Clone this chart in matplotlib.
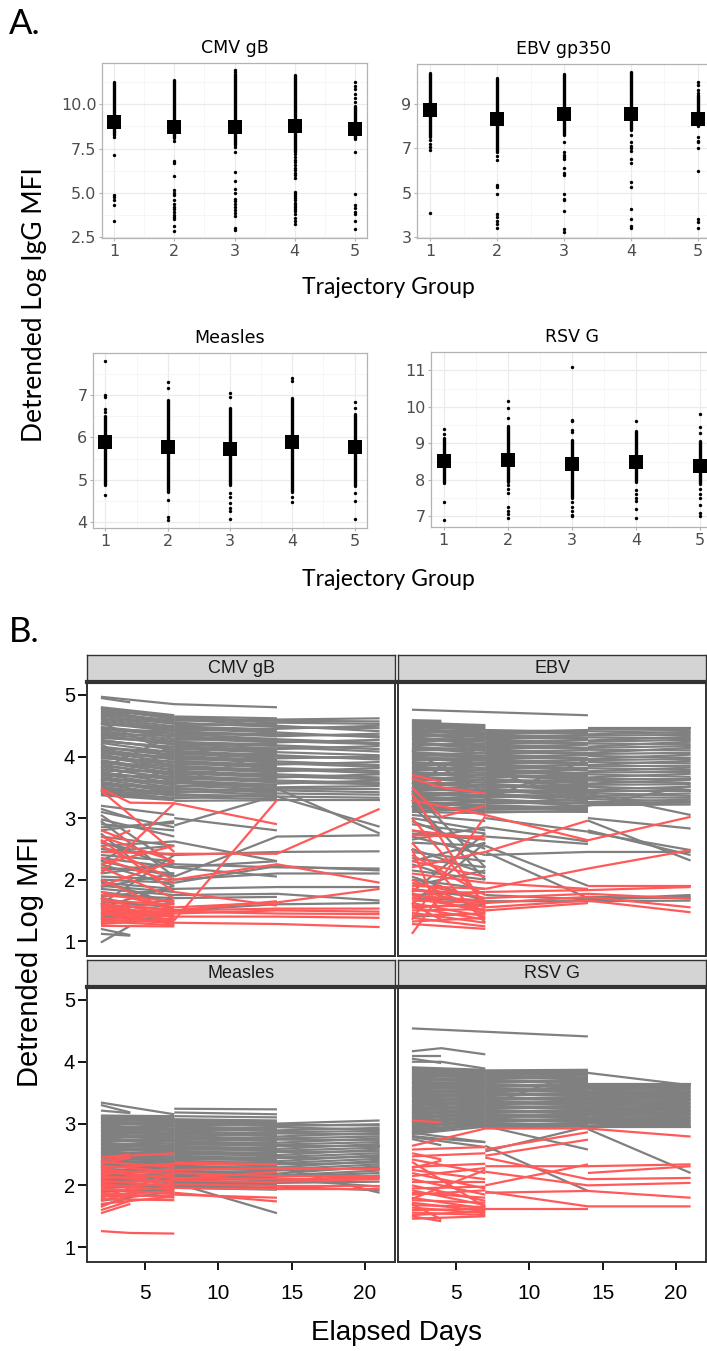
import matplotlib
matplotlib.use("Agg")
import matplotlib.pyplot as plt

plt.rcParams['font.family'] = ['DejaVu Sans']

N = None
W, H = 707, 1351

# ---------------- Panel A: IgG by trajectory group ----------------
groups = [1, 2, 3, 4, 5]

cmv_mean = [9.00, 8.70, 8.73, 8.77, 8.60]
cmv_lo = [8.26, 8.07, 7.70, 7.32, 8.05]
cmv_hi = [11.25, 11.38, 11.70, 11.63, 9.90]
cmv_pts = [
    [8.16, 7.16, 4.89, 4.76, 4.62, 4.34, 3.43],
    [7.94, 6.79, 6.71, 5.93, 5.14, 4.99, 4.86, 4.57, 4.39, 4.20, 4.06, 3.91, 3.76, 3.63, 3.50, 3.12, 2.84],
    [11.95, 11.85, 7.60, 7.32, 6.18, 5.65, 5.24, 4.99, 4.63, 4.52, 4.39, 4.20, 4.05, 3.88, 3.69, 3.00, 2.91],
    [7.18, 7.02, 6.88, 6.72, 6.58, 6.41, 6.27, 6.12, 5.98, 5.84, 5.05, 4.92, 4.80, 4.70, 4.58, 4.45,
     4.32, 4.20, 4.08, 3.95, 3.80, 3.59, 3.40, 3.25],
    [11.25, 11.05, 10.85, 10.60, 10.35, 10.15, 7.32, 4.95, 4.29, 4.15, 3.91, 3.78, 3.40, 2.97],
]

ebv_mean = [8.76, 8.31, 8.55, 8.58, 8.31]
ebv_lo = [7.50, 6.90, 7.60, 7.83, 8.00]
ebv_hi = [10.43, 10.19, 10.38, 10.46, 9.40]
ebv_pts = [
    [7.38, 7.22, 7.05, 6.92, 4.07],
    [6.85, 6.68, 6.50, 5.33, 5.25, 4.94, 4.02, 3.90, 3.74, 3.60, 3.42],
    [7.30, 6.82, 6.70, 6.60, 6.52, 6.10, 5.87, 5.78, 4.94, 4.71, 4.65, 4.19, 3.36, 3.24],
    [7.60, 7.30, 7.12, 7.00, 6.88, 6.52, 6.32, 5.48, 5.27, 4.26, 3.80, 3.51, 3.39],
    [10.00, 9.85, 9.65, 9.50, 7.53, 7.35, 7.27, 7.03, 5.98, 3.81, 3.68, 3.39],
]

measles_mean = [5.90, 5.77, 5.73, 5.90, 5.76]
measles_lo = [4.88, 4.72, 4.88, 4.72, 4.84]
measles_hi = [6.50, 6.88, 6.69, 6.92, 6.55]
measles_pts = [
    [7.81, 7.00, 6.95, 6.68, 6.60, 4.64],
    [7.31, 7.16, 4.51, 4.11, 4.05],
    [7.05, 6.96, 4.68, 4.60, 4.45, 4.33, 4.27, 4.07],
    [7.39, 7.34, 4.60, 4.47],
    [6.84, 6.70, 4.68, 4.49, 4.08],
]

rsv_mean = [8.53, 8.54, 8.43, 8.48, 8.39]
rsv_lo = [7.91, 7.95, 7.50, 7.93, 7.89]
rsv_hi = [9.15, 9.47, 9.10, 9.33, 9.07]
rsv_pts = [
    [9.40, 9.25, 7.39, 6.91],
    [10.15, 9.98, 9.68, 7.85, 7.75, 7.63, 7.26, 7.15, 7.06, 6.97],
    [11.09, 9.65, 9.60, 9.37, 9.30, 7.40, 7.26, 7.15, 7.05, 7.00],
    [9.61, 7.71, 7.60, 7.50, 7.41, 7.19, 6.96],
    [9.81, 9.46, 9.28, 7.75, 7.60, 7.50, 7.30, 7.10, 7.00],
]

# ---------------- Panel B: detrended log MFI over elapsed days ----------------
days = [2, 4, 7, 14, 21]

cmv_gray = [
    [4.95, 4.88, N, N, N], [4.97, N, 4.85, 4.80, N], [4.78, 4.73, N, N, N], [4.66, 4.70, N, N, N],
    [4.80, N, 4.67, N, N], [4.77, N, 4.61, N, N], [4.74, N, 4.65, N, N], [4.71, N, 4.54, N, N],
    [4.68, N, 4.59, N, N], [4.63, N, 4.49, N, N], [4.61, N, 4.56, N, N], [4.57, N, 4.43, N, N],
    [4.55, N, 4.05, N, N], [4.52, N, 4.47, N, N], [4.48, N, 4.36, N, N], [4.45, N, 4.40, N, N],
    [4.41, N, 4.28, N, N], [4.38, N, 4.33, N, N], [4.35, N, 4.19, N, N], [4.30, N, 4.24, N, N],
    [4.27, N, 4.11, N, N], [4.24, N, 4.16, N, N], [4.20, N, 3.55, N, N], [4.16, N, 4.03, N, N],
    [4.13, N, 4.08, N, N], [4.09, N, 3.95, N, N], [4.05, N, 3.99, N, N], [4.01, N, 3.87, N, N],
    [3.97, N, 3.92, N, N], [3.92, N, 3.79, N, N], [3.89, N, 3.84, N, N], [3.85, N, 3.71, N, N],
    [3.80, N, 4.35, N, N], [3.77, N, 3.75, N, N], [3.73, N, 3.63, N, N], [3.69, N, 3.67, N, N],
    [3.65, N, 3.55, N, N], [3.62, N, 3.59, N, N], [3.57, N, 3.47, N, N], [3.53, N, 3.51, N, N],
    [3.49, N, 3.40, N, N], [3.45, N, 3.44, N, N], [3.41, N, 3.33, N, N], [3.37, N, 3.29, N, N],
    [3.60, N, 4.10, N, N],
    [N, N, 4.65, 4.62, N], [N, N, 4.62, 4.55, N], [N, N, 4.58, 4.60, N], [N, N, 4.55, 4.48, N],
    [N, N, 4.51, 4.53, N], [N, N, 4.47, 4.41, N], [N, N, 4.43, 4.45, N], [N, N, 4.39, 4.33, N],
    [N, N, 4.35, 4.37, N], [N, N, 4.31, 4.25, N], [N, N, 4.27, 4.29, N], [N, N, 4.25, 3.70, N],
    [N, N, 4.22, 4.17, N], [N, N, 4.19, 4.21, N], [N, N, 4.15, 4.08, N], [N, N, 4.11, 4.13, N],
    [N, N, 4.07, 4.00, N], [N, N, 4.03, 4.04, N], [N, N, 3.99, 3.92, N], [N, N, 3.95, 3.96, N],
    [N, N, 3.91, 3.84, N], [N, N, 3.87, 3.88, N], [N, N, 3.83, 3.76, N], [N, N, 3.79, 3.80, N],
    [N, N, 3.75, 3.68, N], [N, N, 3.71, 3.72, N], [N, N, 3.67, 3.60, N], [N, N, 3.63, 3.64, N],
    [N, N, 3.59, 3.52, N], [N, N, 3.55, 4.10, N], [N, N, 3.51, 3.55, N], [N, N, 3.47, 3.44, N],
    [N, N, 3.42, 3.47, N], [N, N, 3.37, 3.36, N], [N, N, 3.32, 3.39, N], [N, N, 3.28, 3.29, N],
    [N, N, N, 4.60, 4.62], [N, N, N, 4.55, 4.53], [N, N, N, 4.50, 4.41], [N, N, N, 4.45, 4.50],
    [N, N, N, 4.39, 4.31], [N, N, N, 4.33, 4.37], [N, N, N, 4.28, 4.22], [N, N, N, 4.23, 4.27],
    [N, N, N, 4.18, 4.12], [N, N, N, 4.12, 4.17], [N, N, N, 4.07, 4.02], [N, N, N, 4.02, 3.95],
    [N, N, N, 3.97, 4.00], [N, N, N, 3.92, 3.86], [N, N, N, 3.87, 3.91], [N, N, N, 3.81, 3.76],
    [N, N, N, 3.76, 3.81], [N, N, N, 3.71, 3.66], [N, N, N, 3.66, 3.71], [N, N, N, 3.61, 3.57],
    [N, N, N, 3.56, 3.61], [N, N, N, 3.50, 3.52], [N, N, N, 3.45, 3.42], [N, N, N, 3.40, 3.38],
    [N, N, N, 3.35, 3.33], [N, N, N, 3.30, 3.30],
    [3.20, N, 3.05, N, N], [3.15, 3.00, N, N, N], [3.10, N, 2.85, N, N], [N, N, 2.88, 3.37, N],
    [N, N, N, 3.48, 2.75], [N, N, N, 3.35, 2.86], [2.90, N, 2.80, N, N], [2.70, N, 2.55, N, N],
    [2.60, 2.50, N, N, N], [2.50, N, 2.40, 2.45, 2.46], [2.40, N, 2.30, N, N], [2.35, N, 2.20, 2.30, N],
    [2.20, N, 2.10, N, N], [2.15, N, 2.25, 2.20, 2.18], [2.05, N, 2.00, 2.10, 2.10], [2.00, N, 1.95, N, N],
    [1.95, N, 1.85, 1.88, 1.88], [1.90, N, 1.80, N, N], [1.85, N, 1.75, 1.77, 1.66], [1.80, N, 1.65, N, N],
    [1.75, N, 1.70, 1.72, N], [1.70, 1.62, N, N, N], [1.65, N, 1.55, N, N], [1.60, N, 1.50, 1.60, 1.62],
    [1.50, N, 1.40, N, N], [1.40, N, 1.35, N, N], [1.20, 1.10, N, N, N], [0.98, 1.25, N, N, N],
    [1.12, 1.09, N, N, N], [2.95, N, 2.05, N, N], [1.60, N, 2.40, N, N], [3.05, N, 2.25, N, N],
    [N, N, 2.05, 2.70, 2.72], [N, N, 2.20, 2.05, N], [N, N, 1.95, 2.22, 2.15], [N, N, 3.00, 2.80, N],
    [2.55, N, 2.62, 2.30, N], [2.80, N, 2.95, N, N], [2.25, N, 1.90, N, N],
    [2.98, N, 2.70, N, N], [2.85, N, 2.92, N, N], [2.62, N, 2.20, N, N], [2.45, N, 2.55, N, N],
    [2.30, N, 2.05, N, N], [2.10, N, 2.25, N, N], [1.98, N, 1.60, N, N], [1.88, N, 2.10, N, N],
    [1.72, N, 1.85, N, N], [1.55, N, 1.90, N, N], [1.45, N, 1.70, N, N], [1.35, 1.60, N, N, N],
    [2.75, 2.35, N, N, N], [2.30, 2.55, N, N, N],
]
# extra subjects inside the dense grey band, (start, end) per sampling interval
cmv_fill_2_7 = [
    (4.79, 4.63), (4.73, 4.57), (4.66, 4.53), (4.60, 4.46), (4.54, 4.41), (4.47, 4.32), (4.43, 4.37),
    (4.37, 4.25), (4.32, 4.21), (4.26, 4.14), (4.22, 4.06), (4.15, 4.01), (4.11, 3.97), (4.07, 3.90),
    (4.03, 3.85), (3.99, 3.82), (3.94, 3.77), (3.91, 3.73), (3.87, 3.69), (3.83, 3.61), (3.79, 3.66),
    (3.75, 3.57), (3.71, 3.53), (3.67, 3.49), (3.63, 3.45), (3.59, 3.42), (3.55, 3.38), (3.51, 3.36),
    (3.47, 3.31), (3.43, 3.38), (3.39, 3.32),
]
cmv_fill_7_14 = [
    (4.63, 4.58), (4.60, 4.51), (4.53, 4.50), (4.49, 4.44), (4.45, 4.39), (4.41, 4.35), (4.37, 4.28),
    (4.33, 4.27), (4.29, 4.23), (4.24, 4.19), (4.20, 4.13), (4.17, 4.10), (4.13, 4.06), (4.09, 4.02),
    (4.05, 3.97), (4.01, 3.94), (3.97, 3.90), (3.93, 3.86), (3.89, 3.82), (3.85, 3.78), (3.81, 3.74),
    (3.77, 3.70), (3.73, 3.66), (3.69, 3.62), (3.65, 3.58), (3.61, 3.54), (3.57, 3.49), (3.53, 3.46),
    (3.49, 3.41), (3.44, 3.38), (3.39, 3.34), (3.34, 3.31),
]
cmv_fill_14_21 = [
    (4.58, 4.57), (4.47, 4.46), (4.36, 4.33), (4.25, 4.20), (4.15, 4.08), (3.99, 3.98), (3.89, 3.83),
    (3.79, 3.73), (3.68, 3.63), (3.58, 3.55), (3.48, 3.47),
]
cmv_red = [
    [3.48, 3.25, 3.24, 2.90, N], [2.10, N, 3.24, N, N], [N, N, 1.34, 3.29, N], [2.45, N, 2.42, 2.42, 3.15],
    [2.55, N, 2.00, 2.25, 1.95], [N, N, 1.55, 1.63, 1.85], [1.60, N, 1.50, 1.53, 1.53], [1.55, N, 1.45, 1.50, 1.48],
    [1.50, N, 1.48, 1.45, 1.44], [1.45, N, 1.40, 1.40, 1.38], [1.35, N, 1.30, 1.28, 1.23], [2.80, 2.62, N, N, N],
    [2.70, N, 2.30, N, N], [3.45, N, 2.45, N, N], [2.65, N, 1.80, N, N], [2.60, 2.80, N, N, N],
    [2.35, N, 1.95, N, N], [2.25, N, 2.55, N, N], [1.80, N, 1.55, N, N], [1.75, N, 1.65, N, N],
    [1.70, N, 1.38, N, N], [1.66, N, 1.60, N, N], [1.62, N, 1.30, N, N], [1.58, N, 1.52, N, N],
    [1.55, N, 1.42, N, N], [1.52, N, 1.62, N, N], [1.48, N, 1.35, N, N], [1.45, N, 1.28, N, N],
    [1.42, N, 1.50, N, N], [1.38, N, 1.33, N, N], [1.35, N, 1.45, N, N], [1.32, N, 1.26, N, N],
    [1.28, N, 1.36, N, N], [1.25, N, 1.24, N, N], [1.60, 1.45, N, N, N], [1.40, 1.55, N, N, N],
    [1.30, 1.48, N, N, N], [1.70, 1.35, N, N, N], [1.90, N, 2.30, N, N], [2.00, N, 1.48, N, N],
    [2.20, N, 1.70, N, N], [N, N, 1.80, 1.58, N], [N, N, 1.50, 1.65, N],
]

ebv_gray = [
    [4.76, N, N, 4.67, N], [4.59, 4.58, N, N, N], [4.57, 4.55, N, N, N], [4.54, 4.57, N, N, N],
    [4.55, N, 4.51, N, N], [4.52, N, 4.46, N, N], [4.48, N, 4.50, N, N], [4.45, N, 4.39, N, N],
    [4.41, N, 4.43, N, N], [4.38, N, 4.31, N, N], [4.34, N, 4.36, N, N], [4.31, N, 4.24, N, N],
    [4.27, N, 4.29, N, N], [4.23, N, 4.16, N, N], [4.19, N, 4.21, N, N], [4.16, N, 4.09, N, N],
    [4.12, N, 4.14, N, N], [4.07, N, 4.01, N, N], [4.04, N, 4.05, N, N], [4.00, N, 3.93, N, N],
    [3.96, N, 3.98, N, N], [3.91, N, 3.86, N, N], [3.88, N, 3.90, N, N], [3.84, N, 3.77, N, N],
    [3.80, N, 3.82, N, N], [3.75, N, 3.69, N, N], [3.72, N, 3.74, N, N], [3.68, N, 3.61, N, N],
    [3.64, N, 3.66, N, N], [3.59, N, 3.53, N, N], [3.56, N, 3.58, N, N], [3.52, N, 3.45, N, N],
    [3.48, N, 3.50, N, N], [3.43, N, 3.37, N, N], [3.40, N, 3.42, N, N], [3.36, N, 3.29, N, N],
    [3.32, N, 3.34, N, N], [3.27, N, 3.21, N, N], [3.24, N, 3.26, N, N], [3.20, N, 3.13, N, N],
    [3.15, N, 3.17, N, N], [3.10, N, 3.08, N, N], [4.10, N, 3.40, N, N], [3.55, N, 4.20, N, N],
    [N, N, 4.43, 4.40, N], [N, N, 4.40, 4.43, N], [N, N, 4.36, 4.31, N], [N, N, 4.32, 4.35, N],
    [N, N, 4.28, 4.22, N], [N, N, 4.24, 4.27, N], [N, N, 4.20, 4.14, N], [N, N, 4.16, 4.19, N],
    [N, N, 4.12, 4.05, N], [N, N, 4.08, 4.10, N], [N, N, 4.04, 3.97, N], [N, N, 4.00, 4.02, N],
    [N, N, 3.96, 3.89, N], [N, N, 3.92, 3.94, N], [N, N, 3.88, 3.80, N], [N, N, 3.84, 3.86, N],
    [N, N, 3.80, 3.72, N], [N, N, 3.76, 3.78, N], [N, N, 3.72, 3.64, N], [N, N, 3.68, 3.70, N],
    [N, N, 3.64, 3.56, N], [N, N, 3.60, 3.62, N], [N, N, 3.56, 3.47, N], [N, N, 3.52, 3.54, N],
    [N, N, 3.48, 3.39, N], [N, N, 3.44, 3.46, N], [N, N, 3.40, 3.31, N], [N, N, 3.36, 3.38, N],
    [N, N, 3.31, 3.23, N], [N, N, 3.26, 3.29, N], [N, N, 3.21, 3.16, N], [N, N, 3.16, 3.20, N],
    [N, N, 3.11, 3.10, N], [N, N, 3.80, 3.25, N], [N, N, 3.30, 3.95, N],
    [N, N, N, 4.46, 4.46], [N, N, N, 4.41, 4.38], [N, N, N, 4.36, 4.40], [N, N, N, 4.31, 4.29],
    [N, N, N, 4.26, 4.32], [N, N, N, 4.21, 4.20], [N, N, N, 4.16, 4.24], [N, N, N, 4.11, 4.10],
    [N, N, N, 4.06, 4.14], [N, N, N, 4.01, 3.98], [N, N, N, 3.96, 4.03], [N, N, N, 3.91, 3.89],
    [N, N, N, 3.86, 3.93], [N, N, N, 3.81, 3.78], [N, N, N, 3.76, 3.82], [N, N, N, 3.71, 3.67],
    [N, N, N, 3.66, 3.72], [N, N, N, 3.61, 3.57], [N, N, N, 3.56, 3.62], [N, N, N, 3.51, 3.46],
    [N, N, N, 3.46, 3.51], [N, N, N, 3.41, 3.36], [N, N, N, 3.36, 3.40], [N, N, N, 3.31, 3.27],
    [N, N, N, 3.26, 3.30], [N, N, N, 3.21, 3.22], [N, N, N, 3.40, 3.05], [N, N, N, 3.20, 3.52],
    [3.05, N, 2.95, N, N], [3.00, N, 2.80, N, N], [2.90, N, 2.75, N, N], [2.80, 2.70, N, N, N],
    [2.75, N, 2.65, N, N], [2.70, N, 2.40, N, N], [2.60, N, 2.55, N, N], [2.45, N, 2.30, N, N],
    [2.35, N, 2.20, N, N], [2.25, 2.10, N, N, N], [2.15, N, 2.00, N, N], [2.00, N, 1.85, N, N],
    [1.85, N, 1.70, N, N], [1.70, N, 1.65, N, N], [1.55, N, 1.60, N, N], [1.40, N, 1.45, N, N],
    [3.45, N, 2.20, N, N], [3.30, N, 2.00, N, N], [1.80, N, 2.75, N, N], [1.60, N, 2.60, N, N],
    [N, N, 2.70, 2.58, N], [N, N, 2.85, 2.62, N], [N, N, 3.00, 2.78, N], [N, N, 2.45, 1.70, N],
    [N, N, 2.55, 1.90, N], [N, N, 1.75, 1.68, 1.72], [N, N, 1.65, 1.65, 1.66], [N, N, N, 2.96, 2.31],
    [N, N, N, 2.80, 2.40], [N, N, N, 2.77, 2.48], [N, N, N, 3.00, 2.83], [N, N, 2.40, 2.45, 2.45],
    [N, N, N, 1.72, 1.70], [N, N, N, 1.68, 1.75],
    [2.95, N, 2.50, N, N], [2.65, N, 2.85, N, N], [2.50, N, 2.10, N, N], [2.30, N, 2.60, N, N],
    [2.05, N, 1.65, N, N], [1.90, N, 2.15, N, N], [1.75, N, 1.80, N, N], [3.20, 2.75, N, N, N],
]
ebv_fill_2_7 = [
    (4.53, 4.48), (4.50, 4.42), (4.47, 4.45), (4.43, 4.34), (4.40, 4.38), (4.36, 4.27), (4.33, 4.33),
    (4.29, 4.20), (4.25, 4.25), (4.21, 4.13), (4.18, 4.18), (4.14, 4.05), (4.10, 4.11), (4.06, 3.97),
    (4.02, 4.00), (3.98, 3.89), (3.94, 3.94), (3.90, 3.81), (3.86, 3.86), (3.82, 3.73), (3.78, 3.78),
    (3.74, 3.65), (3.70, 3.70), (3.66, 3.57), (3.62, 3.62), (3.58, 3.49), (3.54, 3.54), (3.50, 3.41),
    (3.46, 3.46), (3.42, 3.33), (3.38, 3.38), (3.34, 3.25), (3.30, 3.30), (3.26, 3.17), (3.22, 3.22),
    (3.18, 3.11), (3.12, 3.14),
]
ebv_fill_7_14 = [
    (4.42, 4.37), (4.38, 4.38), (4.34, 4.29), (4.30, 4.30), (4.26, 4.20), (4.22, 4.22), (4.18, 4.12),
    (4.14, 4.14), (4.10, 4.03), (4.06, 4.06), (4.02, 3.95), (3.98, 3.98), (3.94, 3.86), (3.90, 3.90),
    (3.86, 3.77), (3.82, 3.82), (3.78, 3.69), (3.74, 3.74), (3.70, 3.61), (3.66, 3.66), (3.62, 3.52),
    (3.58, 3.58), (3.54, 3.44), (3.50, 3.50), (3.46, 3.35), (3.42, 3.42), (3.38, 3.27), (3.34, 3.34),
    (3.29, 3.19), (3.24, 3.25), (3.19, 3.13), (3.14, 3.16), (3.09, 3.12),
]
ebv_fill_14_21 = [
    (4.44, 4.43), (4.34, 4.35), (4.24, 4.27), (4.14, 4.17), (4.04, 4.06), (3.94, 3.96), (3.84, 3.85),
    (3.74, 3.75), (3.64, 3.64), (3.54, 3.55), (3.44, 3.44), (3.34, 3.33), (3.24, 3.25),
]
ebv_red = [
    [3.70, 3.59, N, N, N], [3.64, 3.50, 3.40, N, N], [3.50, 3.02, 3.20, N, N], [3.29, N, 3.05, 2.64, 3.02],
    [N, N, 2.45, 2.96, N], [N, N, 1.85, 2.18, 2.48], [2.80, N, 2.66, N, N], [2.72, N, 2.70, N, N],
    [N, N, N, 1.90, 1.90], [N, N, 1.80, 1.83, 1.88], [N, N, 1.70, 1.77, 1.69], [N, N, 1.62, 1.72, 1.55],
    [N, N, 1.55, 1.66, 1.47], [N, N, 1.95, 1.85, N], [N, N, 1.50, 1.62, N], [1.12, 1.77, N, N, N],
    [3.40, N, 1.55, N, N], [2.60, N, 1.30, N, N], [1.35, N, 3.03, N, N], [2.50, 1.40, N, N, N],
    [3.00, N, 1.60, N, N], [2.20, N, 2.45, N, N], [2.40, N, 1.75, N, N], [2.10, N, 1.95, N, N],
    [1.95, N, 1.70, N, N], [1.90, N, 1.85, N, N], [1.86, N, 1.55, N, N], [1.82, N, 1.78, N, N],
    [1.78, N, 1.45, N, N], [1.74, N, 1.66, N, N], [1.70, N, 1.50, N, N], [1.66, N, 1.62, N, N],
    [1.62, N, 1.40, N, N], [1.58, N, 1.58, N, N], [1.55, N, 1.35, N, N], [1.50, N, 1.52, N, N],
    [1.46, N, 1.30, N, N], [1.42, N, 1.45, N, N], [1.38, N, 1.24, N, N], [1.32, N, 1.38, N, N],
    [1.28, N, 1.20, N, N], [2.00, N, 1.48, N, N], [1.60, 1.35, N, N, N], [2.30, N, 2.05, N, N],
]

measles_gray = [
    [3.34, N, 3.15, N, N], [3.30, 3.18, N, N, N], [3.21, 3.17, N, N, N],
    [3.13, N, 3.12, N, N], [3.10, N, 3.06, N, N], [3.07, N, 3.09, N, N], [3.04, N, 2.99, N, N],
    [3.01, N, 3.03, N, N], [2.97, N, 2.92, N, N], [2.94, N, 2.96, N, N], [2.90, N, 2.85, N, N],
    [2.87, N, 2.89, N, N], [2.83, N, 2.78, N, N], [2.80, N, 2.82, N, N], [2.76, N, 2.71, N, N],
    [2.73, N, 2.75, N, N], [2.69, N, 2.64, N, N], [2.66, N, 2.68, N, N], [2.62, N, 2.57, N, N],
    [2.59, N, 2.61, N, N], [2.55, N, 2.50, N, N], [2.52, N, 2.54, N, N], [2.48, N, 2.43, N, N],
    [2.45, N, 2.47, N, N], [2.41, N, 2.36, N, N], [2.38, N, 2.40, N, N], [2.34, N, 2.29, N, N],
    [2.31, N, 2.33, N, N], [2.27, N, 2.22, N, N], [2.24, N, 2.26, N, N], [2.20, N, 2.15, N, N],
    [2.16, N, 2.18, N, N], [2.12, N, 2.08, N, N], [2.08, N, 2.11, N, N], [2.04, N, 2.00, N, N],
    [2.00, N, 1.96, N, N], [1.95, N, 2.03, N, N], [1.90, N, 1.93, N, N], [1.82, N, 1.95, N, N],
    [1.75, N, 1.90, N, N], [1.68, 1.80, N, N, N],
    [N, N, 3.24, 3.23, N], [N, N, 3.18, 3.15, N], [N, N, 3.12, 3.10, N],
    [N, N, 3.07, 3.05, N], [N, N, 3.04, 2.99, N], [N, N, 3.00, 3.02, N], [N, N, 2.96, 2.91, N],
    [N, N, 2.92, 2.94, N], [N, N, 2.88, 2.83, N], [N, N, 2.84, 2.86, N], [N, N, 2.80, 2.75, N],
    [N, N, 2.76, 2.78, N], [N, N, 2.72, 2.67, N], [N, N, 2.68, 2.70, N], [N, N, 2.64, 2.59, N],
    [N, N, 2.60, 2.62, N], [N, N, 2.56, 2.51, N], [N, N, 2.52, 2.54, N], [N, N, 2.48, 2.43, N],
    [N, N, 2.44, 2.46, N], [N, N, 2.40, 2.35, N], [N, N, 2.36, 2.38, N], [N, N, 2.32, 2.27, N],
    [N, N, 2.28, 2.30, N], [N, N, 2.24, 2.19, N], [N, N, 2.20, 2.22, N], [N, N, 2.16, 2.11, N],
    [N, N, 2.12, 2.14, N], [N, N, 2.08, 2.03, N], [N, N, 2.04, 2.06, N], [N, N, 2.00, 1.96, N],
    [N, N, 1.96, 1.93, N], [N, N, 2.04, 1.55, N],
    [N, N, N, 3.00, 3.05], [N, N, N, 2.98, 2.97], [N, N, N, 2.94, 2.90], [N, N, N, 2.89, 2.93],
    [N, N, N, 2.84, 2.82], [N, N, N, 2.79, 2.85], [N, N, N, 2.74, 2.73], [N, N, N, 2.69, 2.76],
    [N, N, N, 2.64, 2.64], [N, N, N, 2.59, 2.67], [N, N, N, 2.54, 2.55], [N, N, N, 2.49, 2.58],
    [N, N, N, 2.44, 2.46], [N, N, N, 2.39, 2.49], [N, N, N, 2.34, 2.37], [N, N, N, 2.29, 2.40],
    [N, N, N, 2.24, 2.28], [N, N, N, 2.19, 2.31], [N, N, N, 2.14, 2.20], [N, N, N, 2.09, 2.13],
    [N, N, N, 2.04, 2.06], [N, N, N, 2.29, 1.88], [N, N, N, 1.98, 1.92], [N, N, N, 2.10, 1.98],
]
measles_fill_2_7 = [
    (3.12, 3.09), (3.08, 3.02), (3.05, 3.05), (3.02, 2.95), (2.99, 2.99), (2.95, 2.88), (2.92, 2.92),
    (2.88, 2.81), (2.85, 2.85), (2.81, 2.74), (2.78, 2.78), (2.74, 2.67), (2.71, 2.71), (2.67, 2.60),
    (2.64, 2.64), (2.60, 2.53), (2.57, 2.57), (2.53, 2.46), (2.50, 2.50), (2.46, 2.39), (2.43, 2.43),
    (2.39, 2.32), (2.36, 2.36), (2.32, 2.25), (2.29, 2.29), (2.25, 2.19), (2.22, 2.22), (2.18, 2.12),
    (2.14, 2.14), (2.10, 2.05), (2.06, 2.07), (2.02, 1.98),
]
measles_fill_7_14 = [
    (3.06, 3.02), (3.02, 2.96), (2.98, 2.97), (2.94, 2.88), (2.90, 2.89), (2.86, 2.80), (2.82, 2.81),
    (2.78, 2.72), (2.74, 2.73), (2.70, 2.64), (2.66, 2.65), (2.62, 2.56), (2.58, 2.57), (2.54, 2.48),
    (2.50, 2.49), (2.46, 2.40), (2.42, 2.41), (2.38, 2.32), (2.34, 2.33), (2.30, 2.24), (2.26, 2.25),
    (2.22, 2.16), (2.18, 2.17), (2.14, 2.08), (2.10, 2.09), (2.06, 2.00), (2.02, 2.01), (1.98, 1.95),
]
measles_fill_14_21 = [
    (2.96, 2.99), (2.86, 2.88), (2.76, 2.79), (2.66, 2.70), (2.56, 2.61), (2.46, 2.52), (2.36, 2.43),
    (2.26, 2.34), (2.16, 2.24), (2.06, 2.16),
]
measles_red = [
    [2.40, 2.48, 2.52, N, N], [2.45, 2.50, N, N, N], [2.38, N, 2.30, N, N], [2.35, 2.45, N, N, N],
    [2.32, N, 2.22, N, N], [2.28, N, 2.35, 2.34, N], [2.25, N, 2.18, N, N], [2.22, N, 2.12, N, N],
    [2.18, N, 2.26, N, N], [2.15, N, 2.05, N, N], [2.12, N, 2.15, N, N], [2.08, N, 1.98, N, N],
    [2.05, N, 2.08, N, N], [2.02, N, 1.92, N, N], [1.98, N, 2.02, N, N], [1.95, N, 1.86, N, N],
    [1.92, N, 1.96, N, N], [1.88, N, 1.80, N, N], [1.85, N, 1.90, N, N], [1.82, N, 1.84, N, N],
    [1.78, N, 1.76, N, N], [1.75, 1.88, N, N, N], [1.70, N, 1.82, N, N], [1.65, 1.85, N, N, N],
    [1.60, 1.75, N, N, N], [1.55, 1.70, N, N, N], [2.30, N, 1.95, N, N], [1.80, N, 2.20, N, N],
    [N, N, 2.37, 2.34, N], [N, N, 2.25, 2.28, 2.26], [N, N, 2.20, 2.15, 2.15], [N, N, 2.12, 2.10, 2.12],
    [N, N, 2.08, 2.05, N], [N, N, 2.02, 1.99, 1.99], [N, N, 1.96, 1.94, 1.94], [N, N, 1.88, 1.74, N],
    [N, N, 1.85, 1.80, N], [N, N, 2.10, 2.22, N], [N, N, N, 2.26, 2.26], [N, N, N, 2.06, 2.10],
    [1.26, 1.23, 1.22, N, N],
]

rsv_gray = [
    [4.54, N, N, 4.41, N], [4.17, 4.22, 4.12, N, N], [4.10, 4.10, N, N, N], [4.00, 4.00, 3.89, N, N],
    [4.05, 3.98, N, N, N],
    [3.91, N, 3.87, N, N], [3.88, N, 3.82, N, N], [3.85, N, 3.85, N, N], [3.82, N, 3.76, N, N],
    [3.79, N, 3.79, N, N], [3.75, N, 3.70, N, N], [3.72, N, 3.73, N, N], [3.68, N, 3.64, N, N],
    [3.65, N, 3.67, N, N], [3.61, N, 3.58, N, N], [3.58, N, 3.61, N, N], [3.54, N, 3.52, N, N],
    [3.51, N, 3.55, N, N], [3.47, N, 3.46, N, N], [3.44, N, 3.49, N, N], [3.40, N, 3.40, N, N],
    [3.37, N, 3.43, N, N], [3.33, N, 3.34, N, N], [3.30, N, 3.37, N, N], [3.26, N, 3.28, N, N],
    [3.23, N, 3.31, N, N], [3.19, N, 3.22, N, N], [3.16, N, 3.25, N, N], [3.12, N, 3.16, N, N],
    [3.09, N, 3.19, N, N], [3.05, N, 3.10, N, N], [3.02, N, 3.13, N, N], [2.98, N, 3.04, N, N],
    [2.95, N, 3.07, N, N], [2.91, N, 2.98, N, N], [2.87, N, 3.01, N, N], [2.83, N, 2.95, N, N],
    [2.80, 2.75, 2.70, N, N], [2.85, N, 2.70, N, N], [2.75, 2.65, N, N, N], [2.78, N, 2.62, N, N],
    [N, N, 3.86, 3.87, N], [N, N, 3.84, 3.82, N], [N, N, 3.81, 3.84, N], [N, N, 3.78, 3.74, N],
    [N, N, 3.75, 3.78, N], [N, N, 3.71, 3.67, N], [N, N, 3.68, 3.71, N], [N, N, 3.64, 3.60, N],
    [N, N, 3.61, 3.64, N], [N, N, 3.57, 3.53, N], [N, N, 3.54, 3.57, N], [N, N, 3.50, 3.46, N],
    [N, N, 3.47, 3.50, N], [N, N, 3.43, 3.39, N], [N, N, 3.40, 3.43, N], [N, N, 3.36, 3.32, N],
    [N, N, 3.33, 3.36, N], [N, N, 3.29, 3.25, N], [N, N, 3.26, 3.29, N], [N, N, 3.22, 3.18, N],
    [N, N, 3.19, 3.22, N], [N, N, 3.15, 3.11, N], [N, N, 3.12, 3.15, N], [N, N, 3.08, 3.04, N],
    [N, N, 3.05, 3.08, N], [N, N, 3.01, 2.98, N], [N, N, 2.97, 3.01, N], [N, N, 2.94, 2.95, N],
    [N, N, 2.96, 2.58, N], [N, N, 2.64, 1.91, N], [N, N, 2.55, 2.95, N], [N, N, 3.30, 3.86, N],
    [N, N, N, 3.82, 3.62], [N, N, N, 3.64, 3.64], [N, N, N, 3.61, 3.58], [N, N, N, 3.58, 3.61],
    [N, N, N, 3.55, 3.52], [N, N, N, 3.52, 3.55], [N, N, N, 3.49, 3.46], [N, N, N, 3.46, 3.49],
    [N, N, N, 3.43, 3.40], [N, N, N, 3.40, 3.43], [N, N, N, 3.37, 3.34], [N, N, N, 3.34, 3.37],
    [N, N, N, 3.31, 3.28], [N, N, N, 3.28, 3.31], [N, N, N, 3.25, 3.22], [N, N, N, 3.22, 3.25],
    [N, N, N, 3.19, 3.16], [N, N, N, 3.16, 3.19], [N, N, N, 3.13, 3.10], [N, N, N, 3.10, 3.13],
    [N, N, N, 3.07, 3.04], [N, N, N, 3.04, 3.07], [N, N, N, 3.01, 2.98], [N, N, N, 2.97, 3.01],
    [N, N, N, 2.94, 2.94], [N, N, N, 2.91, 2.20],
]
rsv_fill_2_7 = [
    (3.90, 3.84), (3.86, 3.80), (3.83, 3.81), (3.80, 3.73), (3.77, 3.75), (3.73, 3.67), (3.70, 3.69),
    (3.66, 3.61), (3.63, 3.63), (3.59, 3.55), (3.56, 3.57), (3.52, 3.49), (3.49, 3.51), (3.45, 3.43),
    (3.42, 3.45), (3.38, 3.37), (3.35, 3.39), (3.31, 3.31), (3.28, 3.33), (3.24, 3.25), (3.21, 3.27),
    (3.17, 3.19), (3.14, 3.21), (3.10, 3.13), (3.07, 3.15), (3.03, 3.07), (3.00, 3.09), (2.96, 3.01),
    (2.93, 3.03), (2.89, 2.97), (2.85, 2.99),
]
rsv_fill_7_14 = [
    (3.85, 3.85), (3.82, 3.79), (3.79, 3.80), (3.76, 3.72), (3.73, 3.75), (3.69, 3.65), (3.66, 3.69),
    (3.62, 3.58), (3.59, 3.62), (3.55, 3.51), (3.52, 3.55), (3.48, 3.44), (3.45, 3.48), (3.41, 3.37),
    (3.38, 3.41), (3.34, 3.30), (3.31, 3.34), (3.27, 3.23), (3.24, 3.27), (3.20, 3.16), (3.17, 3.20),
    (3.13, 3.09), (3.10, 3.13), (3.06, 3.02), (3.03, 3.06), (2.99, 2.96), (2.95, 2.99),
]
rsv_fill_14_21 = [
    (3.63, 3.62), (3.56, 3.57), (3.50, 3.51), (3.44, 3.45), (3.38, 3.39), (3.32, 3.33), (3.26, 3.27),
    (3.20, 3.21), (3.14, 3.15), (3.08, 3.09), (3.02, 3.03), (2.96, 2.97),
]
rsv_red = [
    [3.05, 3.02, N, N, N], [2.64, 2.75, 2.92, 2.92, 2.79], [N, N, 2.58, 2.86, N], [N, N, 2.48, 2.74, N],
    [2.58, N, 2.62, N, N], [2.52, 2.42, N, N, N], [2.47, N, 2.52, N, N], [2.42, N, 2.20, N, N],
    [N, N, 2.31, 2.31, 2.34], [N, N, 2.00, 2.34, N], [N, N, N, 2.20, 2.31], [N, N, N, 2.10, 2.12],
    [N, N, 2.22, 2.00, 2.04], [N, N, 1.88, 1.91, 1.80], [N, N, 1.90, 1.66, 1.66], [N, N, 1.61, 1.61, N],
    [N, N, 2.45, 2.10, N], [2.38, N, 1.65, N, N], [2.30, N, 2.35, N, N], [2.25, N, 2.10, N, N],
    [2.20, N, 1.95, N, N], [2.15, N, 2.28, N, N], [2.10, N, 1.85, N, N], [2.05, N, 2.05, N, N],
    [2.00, N, 1.75, N, N], [1.95, N, 1.98, N, N], [1.92, N, 1.68, N, N], [1.88, N, 1.80, N, N],
    [1.85, N, 1.92, N, N], [1.80, N, 1.62, N, N], [1.76, N, 1.72, N, N], [1.72, N, 1.58, N, N],
    [1.68, N, 1.65, N, N], [1.64, N, 1.55, N, N], [1.60, N, 1.62, N, N], [1.56, N, 1.52, N, N],
    [1.52, N, 1.58, N, N], [1.50, 1.42, N, N, N], [1.46, N, 1.50, N, N], [1.70, 1.45, N, N, N],
    [1.78, N, 2.25, N, N], [2.28, 2.40, N, N, N],
]


def px_axes(fig, l, t, r, b):
    # pixel box (from top-left) -> figure fraction axes
    return fig.add_axes([l / W, 1 - b / H, (r - l) / W, (b - t) / H])


def group_panel(ax, title, means, lo, hi, pts, yticks, ylabels, ylim):
    ax.set_xlim(0.8, 5.2)
    ax.set_ylim(*ylim)
    ax.set_xticks(groups)
    ax.set_xticks([1.5, 2.5, 3.5, 4.5], minor=True)
    ax.set_yticks(yticks)
    ax.set_yticklabels(ylabels)
    step = yticks[1] - yticks[0]
    ax.set_yticks([v + step / 2 for v in yticks], minor=True)
    ax.grid(True, which='major', color='#EBEBEB', lw=0.9)
    ax.grid(True, which='minor', color='#F5F5F5', lw=0.6)
    ax.set_axisbelow(True)
    for s in ax.spines.values():
        s.set_color('#B3B3B3')
        s.set_linewidth(0.9)
    ax.tick_params(which='major', length=2.5, width=0.8, color='#B3B3B3', labelsize=11.5, labelcolor='#4D4D4D', pad=1.5)
    ax.tick_params(which='minor', length=0)
    lc = ax.vlines(groups, lo, hi, color='black', lw=2.4, zorder=3)
    lc.set_capstyle('round')
    for g, vals in zip(groups, pts):
        ax.scatter([g] * len(vals), vals, s=6, color='black', lw=0, zorder=3)
    ax.scatter(groups, means, marker='s', s=105, color='black', lw=0, zorder=4)
    ax.set_title(title, fontsize=12.5, pad=7)


def line_panel(ax, gray, fills, red, left, bottom):
    lw = 1.6
    for (d0, d1), pairs in zip([(2, 7), (7, 14), (14, 21)], fills):
        for a, b in pairs:
            ax.plot([d0, d1], [a, b], color='#808080', lw=lw, solid_capstyle='butt')
    for traj, col in [(t, '#808080') for t in gray] + [(t, '#FF5A5A') for t in red]:
        xs = [d for d, v in zip(days, traj) if v is not None]
        ys = [v for v in traj if v is not None]
        ax.plot(xs, ys, color=col, lw=lw, solid_capstyle='butt')
    ax.set_xlim(1.05, 22.05)
    ax.set_ylim(0.76, 5.21)
    ax.set_xticks([5, 10, 15, 20])
    ax.set_yticks([1, 2, 3, 4, 5])
    for s in ax.spines.values():
        s.set_color('#333333')
        s.set_linewidth(1.4)
    ax.tick_params(axis='y', length=6.5 if left else 0, width=1.3, labelsize=14.5, pad=2,
                   labelleft=left, labelfontfamily='Liberation Sans')
    ax.tick_params(axis='x', length=6 if bottom else 0, width=1.3, labelsize=15, pad=10,
                   labelbottom=bottom, labelfontfamily='Liberation Sans')


def strip(fig, l, t, r, b, text):
    sax = px_axes(fig, l, t, r, b)
    sax.set_facecolor('#D4D4D4')
    sax.set_xticks([])
    sax.set_yticks([])
    for s in sax.spines.values():
        s.set_color('#333333')
        s.set_linewidth(1.0)
    sax.spines['bottom'].set_linewidth(3.0)
    sax.text(0.5, 0.5, text, ha='center', va='center', fontsize=13,
             family='Liberation Sans', color='#1A1A1A', transform=sax.transAxes)


fig = plt.figure(figsize=(W / 100, H / 100), dpi=100)

# panel A
ax = px_axes(fig, 102, 63, 367, 238)
group_panel(ax, 'CMV gB', cmv_mean, cmv_lo, cmv_hi, cmv_pts,
            [2.5, 5.0, 7.5, 10.0], ['2.5', '5.0', '7.5', '10.0'], (2.45, 12.33))
ax = px_axes(fig, 417, 64, 711, 238)
group_panel(ax, 'EBV gp350', ebv_mean, ebv_lo, ebv_hi, ebv_pts,
            [3, 5, 7, 9], ['3', '5', '7', '9'], (2.95, 10.82))
ax = px_axes(fig, 93, 353, 367, 528)
group_panel(ax, 'Measles', measles_mean, measles_lo, measles_hi, measles_pts,
            [4, 5, 6, 7], ['4', '5', '6', '7'], (3.86, 7.99))
ax = px_axes(fig, 431, 352, 713, 527)
group_panel(ax, 'RSV G', rsv_mean, rsv_lo, rsv_hi, rsv_pts,
            [7, 8, 9, 10, 11], ['7', '8', '9', '10', '11'], (6.71, 11.29))

fig.text(9 / W, 1 - 24 / H, 'A.', fontsize=25, family='Lato', va='center', ha='left')
fig.text(388 / W, 1 - 287 / H, 'Trajectory Group', fontsize=16.5, family='Lato', va='center', ha='center')
fig.text(388 / W, 1 - 580 / H, 'Trajectory Group', fontsize=16.5, family='Lato', va='center', ha='center')
fig.text(35 / W, 1 - 305 / H, 'Detrended Log IgG MFI', fontsize=19, family='Lato',
         rotation=90, va='center', ha='center')

# panel B
ax = px_axes(fig, 87, 682, 395, 956)
line_panel(ax, cmv_gray, [cmv_fill_2_7, cmv_fill_7_14, cmv_fill_14_21], cmv_red, True, False)
ax = px_axes(fig, 398, 682, 706, 956)
line_panel(ax, ebv_gray, [ebv_fill_2_7, ebv_fill_7_14, ebv_fill_14_21], ebv_red, False, False)
ax = px_axes(fig, 87, 987, 395, 1262)
line_panel(ax, measles_gray, [measles_fill_2_7, measles_fill_7_14, measles_fill_14_21], measles_red, True, True)
ax = px_axes(fig, 398, 987, 706, 1262)
line_panel(ax, rsv_gray, [rsv_fill_2_7, rsv_fill_7_14, rsv_fill_14_21], rsv_red, False, True)

strip(fig, 87, 655, 395, 682, 'CMV gB')
strip(fig, 398, 655, 706, 682, 'EBV')
strip(fig, 87, 960, 395, 987, 'Measles')
strip(fig, 398, 960, 706, 987, 'RSV G')

fig.text(9 / W, 1 - 632 / H, 'B.', fontsize=25, family='Lato', va='center', ha='left')
fig.text(397 / W, 1 - 1333 / H, 'Elapsed Days', fontsize=20, family='Liberation Sans', va='center', ha='center')
fig.text(30 / W, 1 - 961 / H, 'Detrended Log MFI', fontsize=21, family='Liberation Sans',
         rotation=90, va='center', ha='center')

fig.savefig('out.png', dpi=100)
